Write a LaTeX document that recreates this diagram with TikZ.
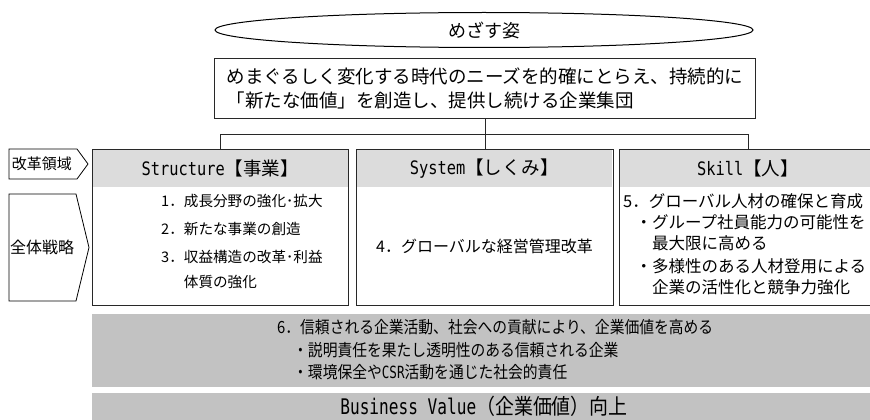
\documentclass[tikz,border=0pt]{standalone}
\usepackage{fontspec}
\setmainfont{Noto Sans CJK JP}
\newfontfamily\jpc[FakeStretch=0.88]{Noto Sans CJK JP}
\newfontfamily\mono[FakeStretch=0.83]{DejaVu Sans Mono}
\newfontfamily\monoc[FakeStretch=0.75]{DejaVu Sans Mono}
\usetikzlibrary{shapes.geometric}
\definecolor{hdrgray}{RGB}{220,220,220}
\definecolor{bandgray}{RGB}{194,194,194}
\definecolor{linegray}{RGB}{40,40,40}
\begin{document}
\begin{tikzpicture}[x=1pt,y=-1pt,
  colbox/.style={draw=linegray,line width=1pt,minimum width=256pt,minimum height=156pt,anchor=north west,inner sep=0pt},
  hdr/.style={fill=hdrgray,minimum width=256pt,minimum height=38pt,anchor=north west,inner sep=0pt,font=\fontsize{18.5}{22}\selectfont},
  body/.style={anchor=west,inner sep=0pt,font=\fontsize{14.6}{17}\selectfont},
  bodyb/.style={anchor=west,inner sep=0pt,font=\fontsize{16}{19}\selectfont},
  bodyk/.style={anchor=west,inner sep=0pt,font=\fontsize{16.5}{19}\selectfont},
  bandtxt/.style={anchor=west,inner sep=0pt,font=\fontsize{16.8}{19}\jpc},
  conn/.style={draw=linegray,line width=0.9pt}
]
\useasboundingbox (0,0) rectangle (870,420);
% goal ellipse
\node[draw,line width=1pt,ellipse,minimum width=538pt,minimum height=35pt,inner sep=0pt,font=\fontsize{18}{22}\selectfont] (goal) at (484,30) {めざす姿};
% vision box
\node[draw=linegray,line width=1pt,minimum width=541pt,minimum height=60pt,anchor=north west,inner sep=0pt,align=left,font=\fontsize{18.5}{24}\selectfont] (vision) at (214,58)
  {めまぐるしく変化する時代のニーズを的確にとらえ、持続的に\\「新たな価値」を創造し、提供し続ける企業集団};
% column headers
\node[hdr] (h1) at (92,149) {\mono Structure\rmfamily【事業】};
\node[hdr] (h2) at (356,149) {\mono System\rmfamily【しくみ】};
\node[hdr,minimum width=258pt] (h3) at (619,149) {};
\node[anchor=center,inner sep=0pt,font=\fontsize{18.5}{22}\selectfont] (h3t) at (748,168) {\mono Skill\rmfamily【人】};
% column boxes
\node[colbox] (c1) at (92,149) {};
\node[colbox,minimum width=257pt] (c2) at (356,149) {};
\node[colbox,minimum width=258pt] (c3) at (619,149) {};
% connectors
\coordinate (bus) at (484.5,134);
\draw[conn] (vision.south) -- (c2.north);
\draw[conn] (c1.north) -- (c1.north |- bus) -- (bus -| h3t) -- (h3t |- c3.north);
% left labels
\node[inner sep=0pt,font=\fontsize{15}{18}\selectfont] (area) at (42,164) {改革領域};
\draw[line width=0.8pt] (9,149) -- (77,149) -- (88,164) -- (77,179) -- (9,179) -- cycle;
\node[inner sep=0pt,font=\fontsize{16}{19}\selectfont] (strat) at (42,247) {全体戦略};
\draw[line width=0.8pt] (9,194) -- (76,194) -- (89,247.5) -- (76,301) -- (9,301) -- cycle;
% structure body
\node[body] (s1) at (161,201) {1．成長分野の強化･拡大};
\node[body] (s2) at (161,229) {2．新たな事業の創造};
\node[body] (s3) at (161,257) {3．収益構造の改革･利益};
\node[body] (s4) at (161,282) {\phantom{3．}体質の強化};
% system body
\node[bodyb,anchor=center] (m1) at (484.5,246) {4．グローバルな経営管理改革};
% skill body
\node[bodyk] (k1) at (623,201) {5．グローバル人材の確保と育成};
\node[bodyk] (k2) at (623,222) {\hspace{0.75em}・グループ社員能力の可能性を};
\node[bodyk] (k3) at (623,243) {\hspace{0.75em}\phantom{・}最大限に高める};
\node[bodyk] (k4) at (623,266) {\hspace{0.75em}・多様性のある人材登用による};
\node[bodyk] (k5) at (623,287) {\hspace{0.75em}\phantom{・}企業の活性化と競争力強化};
% band 6
\node[fill=bandgray,minimum width=790pt,minimum height=73pt,anchor=north west,inner sep=0pt] (b6) at (92,314) {};
\node[bandtxt] (b61) at (277,327) {6．信頼される企業活動、社会への貢献により、企業価値を高める};
\node[bandtxt] (b62) at (293,350) {・説明責任を果たし透明性のある信頼される企業};
\node[bandtxt] (b63) at (293,372) {・環境保全や{\monoc CSR}活動を通じた社会的責任};
% business value band
\node[fill=bandgray,minimum width=790pt,minimum height=32pt,anchor=north west,inner sep=0pt] (bv) at (92,393) {};
\node[inner sep=0pt,font=\fontsize{21.5}{24}\jpc] (bvt) at (484,406) {{\monoc Business Value}（企業価値）向上};
\end{tikzpicture}
\end{document}
